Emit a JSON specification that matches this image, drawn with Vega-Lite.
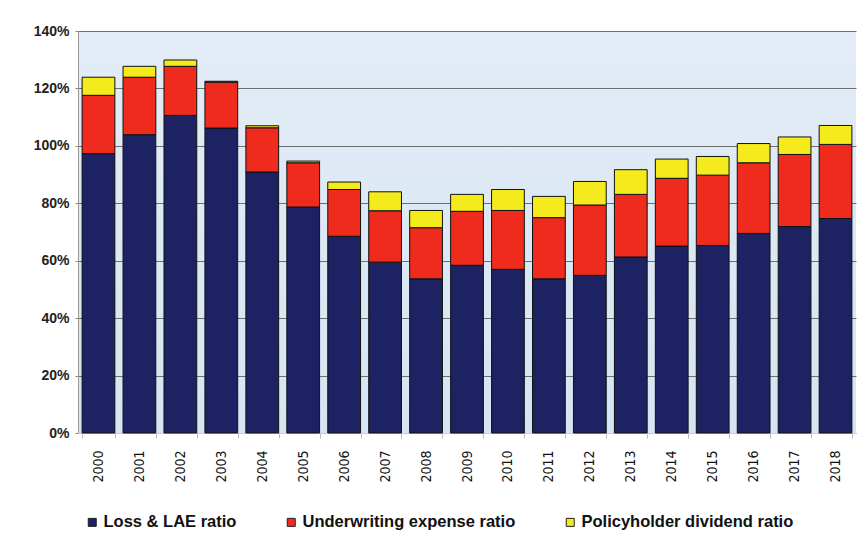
{
  "$schema": "https://vega.github.io/schema/vega-lite/v6.json",
  "width": 778,
  "height": 402,
  "autosize": {"type": "none"},
  "padding": {"left": 78, "top": 31, "right": 12, "bottom": 105},
  "background": "#ffffff",
  "config": {
    "view": {"stroke": null, "fill": {"gradient": "linear", "x1": 0, "y1": 0, "x2": 0, "y2": 1, "stops": [{"offset": 0, "color": "#e3ecf6"}, {"offset": 1, "color": "#d5e5f3"}]}},
    "font": "Liberation Sans"
  },
  "data": {
    "values": [
      {"year": "2000", "series": "Loss & LAE ratio", "value": 97.3},
      {"year": "2000", "series": "Underwriting expense ratio", "value": 20.3},
      {"year": "2000", "series": "Policyholder dividend ratio", "value": 6.3},
      {"year": "2001", "series": "Loss & LAE ratio", "value": 103.9},
      {"year": "2001", "series": "Underwriting expense ratio", "value": 20.0},
      {"year": "2001", "series": "Policyholder dividend ratio", "value": 3.8},
      {"year": "2002", "series": "Loss & LAE ratio", "value": 110.6},
      {"year": "2002", "series": "Underwriting expense ratio", "value": 17.1},
      {"year": "2002", "series": "Policyholder dividend ratio", "value": 2.2},
      {"year": "2003", "series": "Loss & LAE ratio", "value": 106.2},
      {"year": "2003", "series": "Underwriting expense ratio", "value": 16.0},
      {"year": "2003", "series": "Policyholder dividend ratio", "value": 0.3},
      {"year": "2004", "series": "Loss & LAE ratio", "value": 90.9},
      {"year": "2004", "series": "Underwriting expense ratio", "value": 15.4},
      {"year": "2004", "series": "Policyholder dividend ratio", "value": 0.7},
      {"year": "2005", "series": "Loss & LAE ratio", "value": 78.7},
      {"year": "2005", "series": "Underwriting expense ratio", "value": 15.4},
      {"year": "2005", "series": "Policyholder dividend ratio", "value": 0.6},
      {"year": "2006", "series": "Loss & LAE ratio", "value": 68.5},
      {"year": "2006", "series": "Underwriting expense ratio", "value": 16.3},
      {"year": "2006", "series": "Policyholder dividend ratio", "value": 2.6},
      {"year": "2007", "series": "Loss & LAE ratio", "value": 59.5},
      {"year": "2007", "series": "Underwriting expense ratio", "value": 17.9},
      {"year": "2007", "series": "Policyholder dividend ratio", "value": 6.6},
      {"year": "2008", "series": "Loss & LAE ratio", "value": 53.7},
      {"year": "2008", "series": "Underwriting expense ratio", "value": 17.8},
      {"year": "2008", "series": "Policyholder dividend ratio", "value": 6.0},
      {"year": "2009", "series": "Loss & LAE ratio", "value": 58.4},
      {"year": "2009", "series": "Underwriting expense ratio", "value": 18.8},
      {"year": "2009", "series": "Policyholder dividend ratio", "value": 5.9},
      {"year": "2010", "series": "Loss & LAE ratio", "value": 57.0},
      {"year": "2010", "series": "Underwriting expense ratio", "value": 20.5},
      {"year": "2010", "series": "Policyholder dividend ratio", "value": 7.3},
      {"year": "2011", "series": "Loss & LAE ratio", "value": 53.7},
      {"year": "2011", "series": "Underwriting expense ratio", "value": 21.3},
      {"year": "2011", "series": "Policyholder dividend ratio", "value": 7.4},
      {"year": "2012", "series": "Loss & LAE ratio", "value": 54.9},
      {"year": "2012", "series": "Underwriting expense ratio", "value": 24.5},
      {"year": "2012", "series": "Policyholder dividend ratio", "value": 8.2},
      {"year": "2013", "series": "Loss & LAE ratio", "value": 61.3},
      {"year": "2013", "series": "Underwriting expense ratio", "value": 21.8},
      {"year": "2013", "series": "Policyholder dividend ratio", "value": 8.6},
      {"year": "2014", "series": "Loss & LAE ratio", "value": 65.1},
      {"year": "2014", "series": "Underwriting expense ratio", "value": 23.6},
      {"year": "2014", "series": "Policyholder dividend ratio", "value": 6.7},
      {"year": "2015", "series": "Loss & LAE ratio", "value": 65.3},
      {"year": "2015", "series": "Underwriting expense ratio", "value": 24.5},
      {"year": "2015", "series": "Policyholder dividend ratio", "value": 6.5},
      {"year": "2016", "series": "Loss & LAE ratio", "value": 69.5},
      {"year": "2016", "series": "Underwriting expense ratio", "value": 24.6},
      {"year": "2016", "series": "Policyholder dividend ratio", "value": 6.7},
      {"year": "2017", "series": "Loss & LAE ratio", "value": 71.9},
      {"year": "2017", "series": "Underwriting expense ratio", "value": 25.1},
      {"year": "2017", "series": "Policyholder dividend ratio", "value": 6.1},
      {"year": "2018", "series": "Loss & LAE ratio", "value": 74.7},
      {"year": "2018", "series": "Underwriting expense ratio", "value": 25.8},
      {"year": "2018", "series": "Policyholder dividend ratio", "value": 6.6}
    ]
  },
  "transform": [
    {"calculate": "indexof(['Loss & LAE ratio', 'Underwriting expense ratio', 'Policyholder dividend ratio'], datum.series)", "as": "stackOrder"}
  ],
  "mark": {"type": "bar", "stroke": "#111111", "strokeWidth": 1},
  "encoding": {
    "x": {
      "field": "year",
      "type": "ordinal",
      "scale": {"paddingInner": 0.2, "paddingOuter": 0.1},
      "axis": {
        "title": null,
        "labelAngle": -90,
        "labelFont": "DejaVu Sans Condensed",
        "labelFontSize": 14,
        "labelColor": "#111111",
        "labelPadding": 12,
        "labelBaseline": "middle",
        "tickBand": "extent",
        "tickSize": 5,
        "tickColor": "#bbbbbb",
        "domainColor": "#cccccc"
      }
    },
    "y": {
      "field": "value",
      "type": "quantitative",
      "stack": "zero",
      "scale": {"domain": [0, 140], "nice": false},
      "axis": {
        "title": null,
        "values": [0, 20, 40, 60, 80, 100, 120, 140],
        "labelExpr": "datum.value + '%'",
        "labelFont": "Liberation Sans",
        "labelFontWeight": "bold",
        "labelFontSize": 14,
        "labelColor": "#222222",
        "labelPadding": 6,
        "tickSize": 3,
        "tickColor": "#888888",
        "domainColor": "#999999",
        "grid": true,
        "gridColor": "#6f6f6f",
        "gridWidth": 1
      }
    },
    "order": {"field": "stackOrder", "type": "quantitative", "sort": "ascending"},
    "color": {
      "field": "series",
      "type": "nominal",
      "scale": {
        "domain": ["Loss & LAE ratio", "Underwriting expense ratio", "Policyholder dividend ratio"],
        "range": ["#1c2262", "#ee2b1c", "#f5ea1c"]
      },
      "legend": {
        "title": null,
        "orient": "none",
        "direction": "horizontal",
        "legendX": 6,
        "legendY": 483,
        "symbolType": "square",
        "symbolSize": 64,
        "symbolStrokeColor": "#222222",
        "symbolStrokeWidth": 1,
        "symbolOffset": 0,
        "labelOffset": 3,
        "labelFont": "Liberation Sans",
        "labelFontWeight": "bold",
        "labelFontSize": 16.5,
        "labelColor": "#111111",
        "columnPadding": 46,
        "labelLimit": 400
      }
    }
  }
}
